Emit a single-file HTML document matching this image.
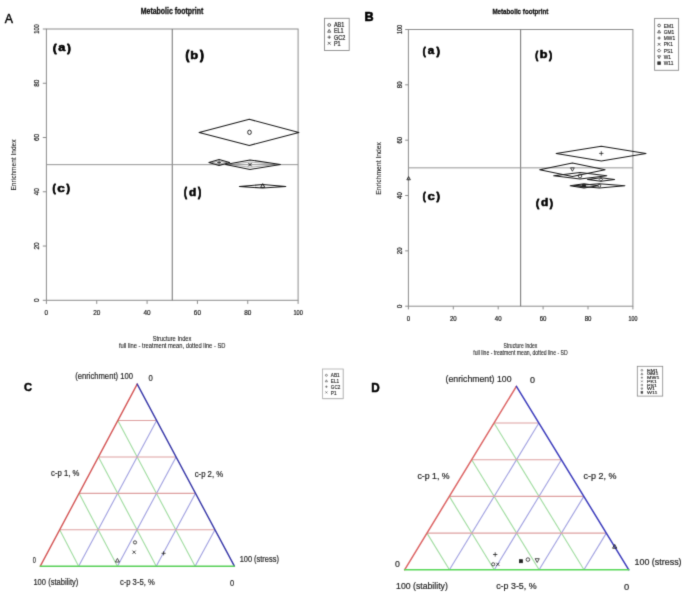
<!DOCTYPE html>
<html><head><meta charset="utf-8"><title>Metabolic footprint</title>
<style>
html,body{margin:0;padding:0;background:#fff;}
svg{display:block;font-family:"Liberation Sans", sans-serif;}
</style></head>
<body>
<svg width="685" height="598" viewBox="0 0 685 598">
<defs><filter id="soft" filterUnits="userSpaceOnUse" x="0" y="0" width="685" height="598" color-interpolation-filters="sRGB"><feConvolveMatrix order="3" kernelMatrix="1 6 1 6 36 6 1 6 1" edgeMode="duplicate"/></filter></defs>
<g filter="url(#soft)">
<rect x="0" y="0" width="685" height="598" fill="#fff"/>
<text x="4.80" y="22.50" font-size="13.04" fill="#000" textLength="8.23" lengthAdjust="spacingAndGlyphs" stroke="#000" stroke-width="0.45" stroke-linejoin="round">A</text>
<text x="364.48" y="20.80" font-size="12.32" fill="#000" textLength="9.12" lengthAdjust="spacingAndGlyphs" font-weight="bold" stroke="#000" stroke-width="0.6" stroke-linejoin="round">B</text>
<text x="24.05" y="391.28" font-size="11.83" fill="#000" textLength="8.05" lengthAdjust="spacingAndGlyphs" font-weight="bold" stroke="#000" stroke-width="0.45" stroke-linejoin="round">C</text>
<text x="371.14" y="392.20" font-size="11.88" fill="#000" textLength="8.45" lengthAdjust="spacingAndGlyphs" font-weight="bold" stroke="#000" stroke-width="0.5" stroke-linejoin="round">D</text>
<rect x="46.40" y="29.00" width="251.70" height="271.30" fill="none" stroke="#8c8c8c" stroke-width="1"/>
<line x1="46.40" y1="300.30" x2="46.40" y2="303.90" stroke="#8c8c8c" stroke-width="1" />
<line x1="42.80" y1="300.30" x2="46.40" y2="300.30" stroke="#8c8c8c" stroke-width="1" />
<text x="46.40" y="314.60" font-size="7.3" fill="#222" text-anchor="middle" textLength="3.57" lengthAdjust="spacingAndGlyphs" stroke="#222" stroke-width="0.22">0</text>
<text x="0" y="0" transform="translate(38.80 300.30) rotate(-90)" font-size="7.3" fill="#222" text-anchor="middle" textLength="3.57" lengthAdjust="spacingAndGlyphs" stroke="#222" stroke-width="0.22">0</text>
<line x1="96.74" y1="300.30" x2="96.74" y2="303.90" stroke="#8c8c8c" stroke-width="1" />
<line x1="42.80" y1="246.04" x2="46.40" y2="246.04" stroke="#8c8c8c" stroke-width="1" />
<text x="96.74" y="314.60" font-size="7.3" fill="#222" text-anchor="middle" textLength="7.15" lengthAdjust="spacingAndGlyphs" stroke="#222" stroke-width="0.22">20</text>
<text x="0" y="0" transform="translate(38.80 246.04) rotate(-90)" font-size="7.3" fill="#222" text-anchor="middle" textLength="7.15" lengthAdjust="spacingAndGlyphs" stroke="#222" stroke-width="0.22">20</text>
<line x1="147.08" y1="300.30" x2="147.08" y2="303.90" stroke="#8c8c8c" stroke-width="1" />
<line x1="42.80" y1="191.78" x2="46.40" y2="191.78" stroke="#8c8c8c" stroke-width="1" />
<text x="147.08" y="314.60" font-size="7.3" fill="#222" text-anchor="middle" textLength="7.15" lengthAdjust="spacingAndGlyphs" stroke="#222" stroke-width="0.22">40</text>
<text x="0" y="0" transform="translate(38.80 191.78) rotate(-90)" font-size="7.3" fill="#222" text-anchor="middle" textLength="7.15" lengthAdjust="spacingAndGlyphs" stroke="#222" stroke-width="0.22">40</text>
<line x1="197.42" y1="300.30" x2="197.42" y2="303.90" stroke="#8c8c8c" stroke-width="1" />
<line x1="42.80" y1="137.52" x2="46.40" y2="137.52" stroke="#8c8c8c" stroke-width="1" />
<text x="197.42" y="314.60" font-size="7.3" fill="#222" text-anchor="middle" textLength="7.15" lengthAdjust="spacingAndGlyphs" stroke="#222" stroke-width="0.22">60</text>
<text x="0" y="0" transform="translate(38.80 137.52) rotate(-90)" font-size="7.3" fill="#222" text-anchor="middle" textLength="7.15" lengthAdjust="spacingAndGlyphs" stroke="#222" stroke-width="0.22">60</text>
<line x1="247.76" y1="300.30" x2="247.76" y2="303.90" stroke="#8c8c8c" stroke-width="1" />
<line x1="42.80" y1="83.26" x2="46.40" y2="83.26" stroke="#8c8c8c" stroke-width="1" />
<text x="247.76" y="314.60" font-size="7.3" fill="#222" text-anchor="middle" textLength="7.15" lengthAdjust="spacingAndGlyphs" stroke="#222" stroke-width="0.22">80</text>
<text x="0" y="0" transform="translate(38.80 83.26) rotate(-90)" font-size="7.3" fill="#222" text-anchor="middle" textLength="7.15" lengthAdjust="spacingAndGlyphs" stroke="#222" stroke-width="0.22">80</text>
<line x1="298.10" y1="300.30" x2="298.10" y2="303.90" stroke="#8c8c8c" stroke-width="1" />
<line x1="42.80" y1="29.00" x2="46.40" y2="29.00" stroke="#8c8c8c" stroke-width="1" />
<text x="298.10" y="314.60" font-size="7.3" fill="#222" text-anchor="middle" textLength="9.43" lengthAdjust="spacingAndGlyphs" stroke="#222" stroke-width="0.22">100</text>
<text x="0" y="0" transform="translate(38.80 29.00) rotate(-90)" font-size="7.3" fill="#222" text-anchor="middle" textLength="9.43" lengthAdjust="spacingAndGlyphs" stroke="#222" stroke-width="0.22">100</text>
<line x1="172.25" y1="29.00" x2="172.25" y2="300.30" stroke="#707070" stroke-width="1" />
<line x1="46.40" y1="164.65" x2="298.10" y2="164.65" stroke="#959595" stroke-width="1" />
<text x="140.75" y="13.60" font-size="8.4" fill="#111" textLength="62.55" lengthAdjust="spacingAndGlyphs" font-weight="bold" stroke="#111" stroke-width="0.3">Metabolic footprint</text>
<text x="152.64" y="340.80" font-size="7.3" fill="#222" textLength="38.72" lengthAdjust="spacingAndGlyphs" stroke="#222" stroke-width="0.1">Structure Index</text>
<text x="119.01" y="348.10" font-size="7.0" fill="#222" textLength="106.47" lengthAdjust="spacingAndGlyphs" stroke="#222" stroke-width="0.1">full line - treatment mean, dotted line - SD</text>
<text x="0" y="0" transform="translate(15.60 190.52) rotate(-90)" font-size="7.1" fill="#222" textLength="51.00" lengthAdjust="spacingAndGlyphs" stroke="#222" stroke-width="0.1">Enrichment Index</text>
<text x="53.06" y="51.82" font-size="11.34" fill="#000" textLength="3.57" lengthAdjust="spacingAndGlyphs" font-weight="bold" stroke="#000" stroke-width="0.9" stroke-linejoin="round">(</text>
<text x="58.22" y="51.29" font-size="11.09" fill="#000" textLength="7.07" lengthAdjust="spacingAndGlyphs" font-weight="bold" stroke="#000" stroke-width="0.55" stroke-linejoin="round">a</text>
<text x="67.30" y="51.82" font-size="11.34" fill="#000" textLength="3.51" lengthAdjust="spacingAndGlyphs" font-weight="bold" stroke="#000" stroke-width="0.9" stroke-linejoin="round">)</text>
<text x="185.53" y="58.68" font-size="11.98" fill="#000" textLength="3.81" lengthAdjust="spacingAndGlyphs" font-weight="bold" stroke="#000" stroke-width="0.9" stroke-linejoin="round">(</text>
<text x="190.36" y="58.59" font-size="11.29" fill="#000" textLength="7.86" lengthAdjust="spacingAndGlyphs" font-weight="bold" stroke="#000" stroke-width="0.55" stroke-linejoin="round">b</text>
<text x="200.00" y="58.68" font-size="11.98" fill="#000" textLength="3.86" lengthAdjust="spacingAndGlyphs" font-weight="bold" stroke="#000" stroke-width="0.9" stroke-linejoin="round">)</text>
<text x="52.42" y="191.95" font-size="11.66" fill="#000" textLength="3.21" lengthAdjust="spacingAndGlyphs" font-weight="bold" stroke="#000" stroke-width="0.9" stroke-linejoin="round">(</text>
<text x="57.26" y="191.69" font-size="10.55" fill="#000" textLength="7.57" lengthAdjust="spacingAndGlyphs" font-weight="bold" stroke="#000" stroke-width="0.55" stroke-linejoin="round">c</text>
<text x="66.40" y="191.95" font-size="11.66" fill="#000" textLength="3.39" lengthAdjust="spacingAndGlyphs" font-weight="bold" stroke="#000" stroke-width="0.9" stroke-linejoin="round">)</text>
<text x="184.05" y="196.01" font-size="11.87" fill="#000" textLength="2.97" lengthAdjust="spacingAndGlyphs" font-weight="bold" stroke="#000" stroke-width="0.9" stroke-linejoin="round">(</text>
<text x="189.12" y="195.99" font-size="11.43" fill="#000" textLength="7.26" lengthAdjust="spacingAndGlyphs" font-weight="bold" stroke="#000" stroke-width="0.55" stroke-linejoin="round">d</text>
<text x="198.10" y="196.01" font-size="11.87" fill="#000" textLength="3.16" lengthAdjust="spacingAndGlyphs" font-weight="bold" stroke="#000" stroke-width="0.9" stroke-linejoin="round">)</text>
<polygon points="199.10,132.40 249.30,119.30 298.90,132.40 249.30,145.40" fill="none" stroke="#1a1a1a" stroke-width="1.05" stroke-linejoin="round"/>
<polygon points="208.90,162.50 219.10,159.60 229.60,162.50 219.10,165.40" fill="none" stroke="#1a1a1a" stroke-width="1.05" stroke-linejoin="round"/>
<polygon points="211.50,162.50 219.10,161.00 227.00,162.50 219.10,164.00" fill="none" stroke="#555" stroke-width="0.5" stroke-linejoin="round"/>
<polygon points="225.60,164.60 250.00,159.90 280.40,164.60 250.00,169.40" fill="none" stroke="#1a1a1a" stroke-width="1.05" stroke-linejoin="round"/>
<polygon points="230.00,164.60 250.00,162.00 276.00,164.60 250.00,167.20" fill="none" stroke="#666" stroke-width="0.5" stroke-linejoin="round"/>
<polygon points="239.40,186.40 262.70,184.60 285.80,186.40 262.70,188.10" fill="none" stroke="#1a1a1a" stroke-width="1.05" stroke-linejoin="round"/>
<ellipse cx="249.5" cy="132.3" rx="1.8" ry="2.2" fill="none" stroke="#111" stroke-width="0.9"/>
<line x1="217.18" y1="162.50" x2="221.02" y2="162.50" stroke="#222" stroke-width="0.8" />
<line x1="219.10" y1="160.58" x2="219.10" y2="164.42" stroke="#222" stroke-width="0.8" />
<line x1="248.30" y1="162.90" x2="251.70" y2="166.30" stroke="#111" stroke-width="0.9" />
<line x1="248.30" y1="166.30" x2="251.70" y2="162.90" stroke="#111" stroke-width="0.9" />
<polygon points="262.70,183.62 264.79,187.42 260.61,187.42" fill="none" stroke="#111" stroke-width="0.9"/>
<rect x="324.5" y="18.3" width="24.7" height="32.2" fill="#fff" stroke="#8c8c8c" stroke-width="0.9"/>
<circle cx="329.20" cy="25.00" r="1.40" fill="none" stroke="#333" stroke-width="0.75"/>
<text x="333.9" y="27.30" font-size="6.4" fill="#222" stroke="#222" stroke-width="0.2" textLength="10.40" lengthAdjust="spacingAndGlyphs">AB1</text>
<polygon points="329.20,29.42 330.74,32.22 327.66,32.22" fill="none" stroke="#333" stroke-width="0.75"/>
<text x="333.9" y="33.40" font-size="6.4" fill="#222" stroke="#222" stroke-width="0.2" textLength="9.79" lengthAdjust="spacingAndGlyphs">EL1</text>
<line x1="327.52" y1="37.20" x2="330.88" y2="37.20" stroke="#333" stroke-width="0.75" />
<line x1="329.20" y1="35.52" x2="329.20" y2="38.88" stroke="#333" stroke-width="0.75" />
<text x="333.9" y="39.50" font-size="6.4" fill="#222" stroke="#222" stroke-width="0.2" textLength="11.32" lengthAdjust="spacingAndGlyphs">GC2</text>
<line x1="327.80" y1="41.90" x2="330.60" y2="44.70" stroke="#333" stroke-width="0.75" />
<line x1="327.80" y1="44.70" x2="330.60" y2="41.90" stroke="#333" stroke-width="0.75" />
<text x="333.9" y="45.60" font-size="6.4" fill="#222" stroke="#222" stroke-width="0.2" textLength="6.73" lengthAdjust="spacingAndGlyphs">P1</text>
<rect x="408.40" y="29.50" width="224.50" height="276.70" fill="none" stroke="#8c8c8c" stroke-width="1"/>
<line x1="408.40" y1="306.20" x2="408.40" y2="309.40" stroke="#8c8c8c" stroke-width="1" />
<line x1="405.20" y1="306.20" x2="408.40" y2="306.20" stroke="#8c8c8c" stroke-width="1" />
<text x="408.40" y="320.70" font-size="6.6" fill="#222" text-anchor="middle" textLength="3.38" lengthAdjust="spacingAndGlyphs" stroke="#222" stroke-width="0.22">0</text>
<text x="0" y="0" transform="translate(401.80 306.20) rotate(-90)" font-size="6.6" fill="#222" text-anchor="middle" textLength="3.38" lengthAdjust="spacingAndGlyphs" stroke="#222" stroke-width="0.22">0</text>
<line x1="453.30" y1="306.20" x2="453.30" y2="309.40" stroke="#8c8c8c" stroke-width="1" />
<line x1="405.20" y1="250.86" x2="408.40" y2="250.86" stroke="#8c8c8c" stroke-width="1" />
<text x="453.30" y="320.70" font-size="6.6" fill="#222" text-anchor="middle" textLength="6.75" lengthAdjust="spacingAndGlyphs" stroke="#222" stroke-width="0.22">20</text>
<text x="0" y="0" transform="translate(401.80 250.86) rotate(-90)" font-size="6.6" fill="#222" text-anchor="middle" textLength="6.75" lengthAdjust="spacingAndGlyphs" stroke="#222" stroke-width="0.22">20</text>
<line x1="498.20" y1="306.20" x2="498.20" y2="309.40" stroke="#8c8c8c" stroke-width="1" />
<line x1="405.20" y1="195.52" x2="408.40" y2="195.52" stroke="#8c8c8c" stroke-width="1" />
<text x="498.20" y="320.70" font-size="6.6" fill="#222" text-anchor="middle" textLength="6.75" lengthAdjust="spacingAndGlyphs" stroke="#222" stroke-width="0.22">40</text>
<text x="0" y="0" transform="translate(401.80 195.52) rotate(-90)" font-size="6.6" fill="#222" text-anchor="middle" textLength="6.75" lengthAdjust="spacingAndGlyphs" stroke="#222" stroke-width="0.22">40</text>
<line x1="543.10" y1="306.20" x2="543.10" y2="309.40" stroke="#8c8c8c" stroke-width="1" />
<line x1="405.20" y1="140.18" x2="408.40" y2="140.18" stroke="#8c8c8c" stroke-width="1" />
<text x="543.10" y="320.70" font-size="6.6" fill="#222" text-anchor="middle" textLength="6.75" lengthAdjust="spacingAndGlyphs" stroke="#222" stroke-width="0.22">60</text>
<text x="0" y="0" transform="translate(401.80 140.18) rotate(-90)" font-size="6.6" fill="#222" text-anchor="middle" textLength="6.75" lengthAdjust="spacingAndGlyphs" stroke="#222" stroke-width="0.22">60</text>
<line x1="588.00" y1="306.20" x2="588.00" y2="309.40" stroke="#8c8c8c" stroke-width="1" />
<line x1="405.20" y1="84.84" x2="408.40" y2="84.84" stroke="#8c8c8c" stroke-width="1" />
<text x="588.00" y="320.70" font-size="6.6" fill="#222" text-anchor="middle" textLength="6.75" lengthAdjust="spacingAndGlyphs" stroke="#222" stroke-width="0.22">80</text>
<text x="0" y="0" transform="translate(401.80 84.84) rotate(-90)" font-size="6.6" fill="#222" text-anchor="middle" textLength="6.75" lengthAdjust="spacingAndGlyphs" stroke="#222" stroke-width="0.22">80</text>
<line x1="632.90" y1="306.20" x2="632.90" y2="309.40" stroke="#8c8c8c" stroke-width="1" />
<line x1="405.20" y1="29.50" x2="408.40" y2="29.50" stroke="#8c8c8c" stroke-width="1" />
<text x="632.90" y="320.70" font-size="6.6" fill="#222" text-anchor="middle" textLength="8.92" lengthAdjust="spacingAndGlyphs" stroke="#222" stroke-width="0.22">100</text>
<text x="0" y="0" transform="translate(401.80 29.50) rotate(-90)" font-size="6.6" fill="#222" text-anchor="middle" textLength="8.92" lengthAdjust="spacingAndGlyphs" stroke="#222" stroke-width="0.22">100</text>
<line x1="520.65" y1="29.50" x2="520.65" y2="306.20" stroke="#707070" stroke-width="1" />
<line x1="408.40" y1="167.85" x2="632.90" y2="167.85" stroke="#959595" stroke-width="1" />
<text x="492.40" y="13.50" font-size="7.9" fill="#111" textLength="55.99" lengthAdjust="spacingAndGlyphs" font-weight="bold" stroke="#111" stroke-width="0.3">Metabolic footprint</text>
<text x="503.48" y="347.60" font-size="6.8" fill="#222" textLength="33.88" lengthAdjust="spacingAndGlyphs" stroke="#222" stroke-width="0.1">Structure Index</text>
<text x="473.32" y="354.80" font-size="6.5" fill="#222" textLength="94.32" lengthAdjust="spacingAndGlyphs" stroke="#222" stroke-width="0.1">full line - treatment mean, dotted line - SD</text>
<text x="0" y="0" transform="translate(381.40 194.74) rotate(-90)" font-size="7.0" fill="#222" textLength="52.72" lengthAdjust="spacingAndGlyphs" stroke="#222" stroke-width="0.1">Enrichment Index</text>
<text x="422.85" y="54.83" font-size="11.76" fill="#000" textLength="2.97" lengthAdjust="spacingAndGlyphs" font-weight="bold" stroke="#000" stroke-width="0.9" stroke-linejoin="round">(</text>
<text x="427.85" y="54.29" font-size="11.09" fill="#000" textLength="6.45" lengthAdjust="spacingAndGlyphs" font-weight="bold" stroke="#000" stroke-width="0.55" stroke-linejoin="round">a</text>
<text x="436.40" y="54.83" font-size="11.76" fill="#000" textLength="3.39" lengthAdjust="spacingAndGlyphs" font-weight="bold" stroke="#000" stroke-width="0.9" stroke-linejoin="round">)</text>
<text x="535.25" y="58.83" font-size="11.76" fill="#000" textLength="2.97" lengthAdjust="spacingAndGlyphs" font-weight="bold" stroke="#000" stroke-width="0.9" stroke-linejoin="round">(</text>
<text x="539.78" y="58.19" font-size="10.61" fill="#000" textLength="7.74" lengthAdjust="spacingAndGlyphs" font-weight="bold" stroke="#000" stroke-width="0.55" stroke-linejoin="round">b</text>
<text x="549.00" y="58.83" font-size="11.76" fill="#000" textLength="3.16" lengthAdjust="spacingAndGlyphs" font-weight="bold" stroke="#000" stroke-width="0.9" stroke-linejoin="round">)</text>
<text x="422.85" y="199.83" font-size="11.76" fill="#000" textLength="2.97" lengthAdjust="spacingAndGlyphs" font-weight="bold" stroke="#000" stroke-width="0.9" stroke-linejoin="round">(</text>
<text x="427.47" y="199.68" font-size="11.64" fill="#000" textLength="7.34" lengthAdjust="spacingAndGlyphs" font-weight="bold" stroke="#000" stroke-width="0.55" stroke-linejoin="round">c</text>
<text x="436.40" y="199.83" font-size="11.76" fill="#000" textLength="3.39" lengthAdjust="spacingAndGlyphs" font-weight="bold" stroke="#000" stroke-width="0.9" stroke-linejoin="round">)</text>
<text x="536.02" y="206.83" font-size="11.76" fill="#000" textLength="3.21" lengthAdjust="spacingAndGlyphs" font-weight="bold" stroke="#000" stroke-width="0.9" stroke-linejoin="round">(</text>
<text x="540.92" y="206.39" font-size="10.88" fill="#000" textLength="7.26" lengthAdjust="spacingAndGlyphs" font-weight="bold" stroke="#000" stroke-width="0.55" stroke-linejoin="round">d</text>
<text x="549.80" y="206.83" font-size="11.76" fill="#000" textLength="3.16" lengthAdjust="spacingAndGlyphs" font-weight="bold" stroke="#000" stroke-width="0.9" stroke-linejoin="round">)</text>
<polygon points="556.20,153.50 601.30,146.20 646.00,153.50 601.30,161.00" fill="none" stroke="#1a1a1a" stroke-width="1.05" stroke-linejoin="round"/>
<line x1="599.14" y1="153.40" x2="603.46" y2="153.40" stroke="#222" stroke-width="0.8" />
<line x1="601.30" y1="151.24" x2="601.30" y2="155.56" stroke="#222" stroke-width="0.8" />
<polygon points="539.70,169.70 572.40,162.90 605.10,169.70 572.40,176.50" fill="none" stroke="#1a1a1a" stroke-width="1.05" stroke-linejoin="round"/>
<polygon points="572.40,171.24 574.27,167.84 570.53,167.84" fill="none" stroke="#222" stroke-width="0.8"/>
<polygon points="553.70,175.80 580.00,172.60 606.80,175.80 580.00,179.00" fill="none" stroke="#1a1a1a" stroke-width="1.05" stroke-linejoin="round"/>
<circle cx="580.00" cy="176.00" r="1.80" fill="none" stroke="#222" stroke-width="0.8"/>
<polygon points="587.60,179.50 600.90,177.80 614.60,179.50 600.90,181.20" fill="none" stroke="#1a1a1a" stroke-width="1.05" stroke-linejoin="round"/>
<polygon points="599.22,179.50 600.90,177.82 602.58,179.50 600.90,181.18" fill="none" stroke="#222" stroke-width="0.8"/>
<polygon points="570.20,185.80 584.00,183.80 597.80,185.80 584.00,187.90" fill="none" stroke="#1a1a1a" stroke-width="1.05" stroke-linejoin="round"/>
<polygon points="573.70,185.80 599.30,183.80 624.90,185.80 599.30,187.90" fill="none" stroke="#1a1a1a" stroke-width="1.05" stroke-linejoin="round"/>
<rect x="582.60" y="184.40" width="2.80" height="2.80" fill="#222" stroke="#222" stroke-width="0.8"/>
<circle cx="599.30" cy="185.80" r="1.40" fill="none" stroke="#222" stroke-width="0.8"/>
<polygon points="408.60,176.58 410.36,179.78 406.84,179.78" fill="none" stroke="#222" stroke-width="0.9"/>
<rect x="654.6" y="18.4" width="24.0" height="51.9" fill="#fff" stroke="#8c8c8c" stroke-width="0.9"/>
<circle cx="659.10" cy="25.50" r="1.35" fill="none" stroke="#333" stroke-width="0.75"/>
<text x="663.8" y="27.60" font-size="5.9" fill="#222" stroke="#222" stroke-width="0.15" textLength="9.95" lengthAdjust="spacingAndGlyphs">EM1</text>
<polygon points="659.10,30.16 660.59,32.86 657.62,32.86" fill="none" stroke="#333" stroke-width="0.75"/>
<text x="663.8" y="33.88" font-size="5.9" fill="#222" stroke="#222" stroke-width="0.15" textLength="10.48" lengthAdjust="spacingAndGlyphs">GM1</text>
<line x1="657.48" y1="38.06" x2="660.72" y2="38.06" stroke="#333" stroke-width="0.75" />
<line x1="659.10" y1="36.44" x2="659.10" y2="39.68" stroke="#333" stroke-width="0.75" />
<text x="663.8" y="40.16" font-size="5.9" fill="#222" stroke="#222" stroke-width="0.15" textLength="11.29" lengthAdjust="spacingAndGlyphs">MW1</text>
<line x1="657.75" y1="42.99" x2="660.45" y2="45.69" stroke="#333" stroke-width="0.75" />
<line x1="657.75" y1="45.69" x2="660.45" y2="42.99" stroke="#333" stroke-width="0.75" />
<text x="663.8" y="46.44" font-size="5.9" fill="#222" stroke="#222" stroke-width="0.15" textLength="9.14" lengthAdjust="spacingAndGlyphs">PK1</text>
<polygon points="657.48,50.62 659.10,49.00 660.72,50.62 659.10,52.24" fill="none" stroke="#333" stroke-width="0.75"/>
<text x="663.8" y="52.72" font-size="5.9" fill="#222" stroke="#222" stroke-width="0.15" textLength="9.14" lengthAdjust="spacingAndGlyphs">PS1</text>
<polygon points="659.10,58.52 660.59,55.82 657.62,55.82" fill="none" stroke="#333" stroke-width="0.75"/>
<text x="663.8" y="59.00" font-size="5.9" fill="#222" stroke="#222" stroke-width="0.15" textLength="7.26" lengthAdjust="spacingAndGlyphs">W1</text>
<rect x="657.75" y="61.83" width="2.70" height="2.70" fill="#333" stroke="#333" stroke-width="0.75"/>
<text x="663.8" y="65.28" font-size="5.9" fill="#222" stroke="#222" stroke-width="0.15" textLength="9.59" lengthAdjust="spacingAndGlyphs">W11</text>
<line x1="117.82" y1="420.52" x2="156.64" y2="420.52" stroke="#dea0a0" stroke-width="1.1" />
<line x1="117.82" y1="420.52" x2="195.08" y2="566.20" stroke="#a0dca0" stroke-width="1.1" />
<line x1="156.64" y1="420.52" x2="78.62" y2="566.20" stroke="#a0a0e0" stroke-width="1.1" />
<line x1="98.44" y1="456.94" x2="176.08" y2="456.94" stroke="#dea0a0" stroke-width="1.1" />
<line x1="98.44" y1="456.94" x2="156.26" y2="566.20" stroke="#a0dca0" stroke-width="1.1" />
<line x1="176.08" y1="456.94" x2="117.44" y2="566.20" stroke="#a0a0e0" stroke-width="1.1" />
<line x1="79.06" y1="493.36" x2="195.52" y2="493.36" stroke="#dea0a0" stroke-width="1.1" />
<line x1="79.06" y1="493.36" x2="117.44" y2="566.20" stroke="#a0dca0" stroke-width="1.1" />
<line x1="195.52" y1="493.36" x2="156.26" y2="566.20" stroke="#a0a0e0" stroke-width="1.1" />
<line x1="59.68" y1="529.78" x2="214.96" y2="529.78" stroke="#dea0a0" stroke-width="1.1" />
<line x1="59.68" y1="529.78" x2="78.62" y2="566.20" stroke="#a0dca0" stroke-width="1.1" />
<line x1="214.96" y1="529.78" x2="195.08" y2="566.20" stroke="#a0a0e0" stroke-width="1.1" />
<line x1="137.20" y1="384.10" x2="40.30" y2="566.20" stroke="#d45656" stroke-width="1.4" stroke-linecap="round"/>
<line x1="137.20" y1="384.10" x2="234.40" y2="566.20" stroke="#3838a8" stroke-width="1.4" stroke-linecap="round"/>
<line x1="40.30" y1="566.20" x2="234.40" y2="566.20" stroke="#58d058" stroke-width="1.4" stroke-linecap="round"/>
<line x1="494.04" y1="423.00" x2="538.88" y2="423.00" stroke="#dea0a0" stroke-width="1.1" />
<line x1="494.04" y1="423.00" x2="583.96" y2="569.80" stroke="#a0dca0" stroke-width="1.1" />
<line x1="538.88" y1="423.00" x2="449.44" y2="569.80" stroke="#a0a0e0" stroke-width="1.1" />
<line x1="471.68" y1="459.70" x2="561.36" y2="459.70" stroke="#dea0a0" stroke-width="1.1" />
<line x1="471.68" y1="459.70" x2="539.12" y2="569.80" stroke="#a0dca0" stroke-width="1.1" />
<line x1="561.36" y1="459.70" x2="494.28" y2="569.80" stroke="#a0a0e0" stroke-width="1.1" />
<line x1="449.32" y1="496.40" x2="583.84" y2="496.40" stroke="#dea0a0" stroke-width="1.1" />
<line x1="449.32" y1="496.40" x2="494.28" y2="569.80" stroke="#a0dca0" stroke-width="1.1" />
<line x1="583.84" y1="496.40" x2="539.12" y2="569.80" stroke="#a0a0e0" stroke-width="1.1" />
<line x1="426.96" y1="533.10" x2="606.32" y2="533.10" stroke="#dea0a0" stroke-width="1.1" />
<line x1="426.96" y1="533.10" x2="449.44" y2="569.80" stroke="#a0dca0" stroke-width="1.1" />
<line x1="606.32" y1="533.10" x2="583.96" y2="569.80" stroke="#a0a0e0" stroke-width="1.1" />
<line x1="516.40" y1="386.30" x2="404.60" y2="569.80" stroke="#dc6464" stroke-width="1.5" stroke-linecap="round"/>
<line x1="516.40" y1="386.30" x2="628.80" y2="569.80" stroke="#3c3cbc" stroke-width="1.5" stroke-linecap="round"/>
<line x1="404.60" y1="569.80" x2="628.80" y2="569.80" stroke="#58d858" stroke-width="1.5" stroke-linecap="round"/>
<text x="75.14" y="379.10" font-size="9.0" fill="#262626" textLength="57.82" lengthAdjust="spacingAndGlyphs" stroke="#262626" stroke-width="0.2">(enrichment) 100</text>
<text x="148.59" y="380.50" font-size="8.7" fill="#262626" textLength="4.29" lengthAdjust="spacingAndGlyphs" stroke="#262626" stroke-width="0.2">0</text>
<text x="51.09" y="476.20" font-size="8.4" fill="#262626" textLength="28.26" lengthAdjust="spacingAndGlyphs" stroke="#262626" stroke-width="0.2">c-p 1, %</text>
<text x="194.69" y="476.50" font-size="8.6" fill="#262626" textLength="28.47" lengthAdjust="spacingAndGlyphs" stroke="#262626" stroke-width="0.2">c-p 2, %</text>
<text x="32.67" y="563.20" font-size="8.2" fill="#262626" textLength="3.13" lengthAdjust="spacingAndGlyphs" stroke="#262626" stroke-width="0.2">0</text>
<text x="239.64" y="561.60" font-size="8.8" fill="#262626" textLength="39.24" lengthAdjust="spacingAndGlyphs" stroke="#262626" stroke-width="0.2">100 (stress)</text>
<text x="33.43" y="585.40" font-size="9.0" fill="#262626" textLength="44.93" lengthAdjust="spacingAndGlyphs" stroke="#262626" stroke-width="0.2">100 (stability)</text>
<text x="119.89" y="584.80" font-size="8.7" fill="#262626" textLength="34.85" lengthAdjust="spacingAndGlyphs" stroke="#262626" stroke-width="0.2">c-p 3-5, %</text>
<text x="230.00" y="586.20" font-size="8.8" fill="#262626" textLength="4.17" lengthAdjust="spacingAndGlyphs" stroke="#262626" stroke-width="0.2">0</text>
<circle cx="135.00" cy="542.40" r="1.60" fill="none" stroke="#222" stroke-width="0.8"/>
<line x1="132.50" y1="550.60" x2="135.70" y2="553.80" stroke="#222" stroke-width="0.8" />
<line x1="132.50" y1="553.80" x2="135.70" y2="550.60" stroke="#222" stroke-width="0.8" />
<line x1="161.56" y1="553.30" x2="165.64" y2="553.30" stroke="#222" stroke-width="0.8" />
<line x1="163.60" y1="551.26" x2="163.60" y2="555.34" stroke="#222" stroke-width="0.8" />
<polygon points="117.40,558.44 119.38,562.04 115.42,562.04" fill="none" stroke="#222" stroke-width="0.8"/>
<rect x="322.4" y="369.0" width="20.8" height="29.4" fill="#fff" stroke="#aaa" stroke-width="0.8"/>
<line x1="322.40" y1="398.60" x2="343.40" y2="398.60" stroke="#bbb" stroke-width="1.2" />
<line x1="343.40" y1="369.00" x2="343.40" y2="398.60" stroke="#c4c4c4" stroke-width="1.0" />
<circle cx="326.40" cy="375.30" r="1.00" fill="none" stroke="#444" stroke-width="0.6"/>
<text x="330.8" y="377.40" font-size="5.8" fill="#222" stroke="#222" stroke-width="0.15" textLength="8.77" lengthAdjust="spacingAndGlyphs">AB1</text>
<polygon points="326.40,379.80 327.50,381.80 325.30,381.80" fill="none" stroke="#444" stroke-width="0.6"/>
<text x="330.8" y="383.10" font-size="5.8" fill="#222" stroke="#222" stroke-width="0.15" textLength="8.26" lengthAdjust="spacingAndGlyphs">EL1</text>
<line x1="325.20" y1="386.70" x2="327.60" y2="386.70" stroke="#444" stroke-width="0.6" />
<line x1="326.40" y1="385.50" x2="326.40" y2="387.90" stroke="#444" stroke-width="0.6" />
<text x="330.8" y="388.80" font-size="5.8" fill="#222" stroke="#222" stroke-width="0.15" textLength="9.54" lengthAdjust="spacingAndGlyphs">GC2</text>
<line x1="325.40" y1="391.40" x2="327.40" y2="393.40" stroke="#444" stroke-width="0.6" />
<line x1="325.40" y1="393.40" x2="327.40" y2="391.40" stroke="#444" stroke-width="0.6" />
<text x="330.8" y="394.50" font-size="5.8" fill="#222" stroke="#222" stroke-width="0.15" textLength="5.68" lengthAdjust="spacingAndGlyphs">P1</text>
<text x="445.58" y="381.90" font-size="9.6" fill="#262626" textLength="65.92" lengthAdjust="spacingAndGlyphs" stroke="#262626" stroke-width="0.2">(enrichment) 100</text>
<text x="529.94" y="382.60" font-size="8.5" fill="#262626" textLength="4.98" lengthAdjust="spacingAndGlyphs" stroke="#262626" stroke-width="0.2">0</text>
<text x="417.45" y="478.80" font-size="8.2" fill="#262626" textLength="32.14" lengthAdjust="spacingAndGlyphs" stroke="#262626" stroke-width="0.2">c-p 1, %</text>
<text x="583.64" y="478.80" font-size="8.4" fill="#262626" textLength="32.85" lengthAdjust="spacingAndGlyphs" stroke="#262626" stroke-width="0.2">c-p 2, %</text>
<text x="394.95" y="566.60" font-size="9.0" fill="#262626" textLength="4.87" lengthAdjust="spacingAndGlyphs" stroke="#262626" stroke-width="0.2">0</text>
<text x="634.53" y="565.20" font-size="8.6" fill="#262626" textLength="47.04" lengthAdjust="spacingAndGlyphs" stroke="#262626" stroke-width="0.2">100 (stress)</text>
<text x="396.05" y="589.10" font-size="9.1" fill="#262626" textLength="51.79" lengthAdjust="spacingAndGlyphs" stroke="#262626" stroke-width="0.2">100 (stability)</text>
<text x="496.14" y="589.10" font-size="9.1" fill="#262626" textLength="40.54" lengthAdjust="spacingAndGlyphs" stroke="#262626" stroke-width="0.2">c-p 3-5, %</text>
<text x="624.12" y="589.80" font-size="9.0" fill="#262626" textLength="5.21" lengthAdjust="spacingAndGlyphs" stroke="#262626" stroke-width="0.2">0</text>
<line x1="493.04" y1="554.50" x2="497.36" y2="554.50" stroke="#222" stroke-width="0.8" />
<line x1="495.20" y1="552.34" x2="495.20" y2="556.66" stroke="#222" stroke-width="0.8" />
<circle cx="493.20" cy="564.30" r="1.60" fill="none" stroke="#222" stroke-width="0.8"/>
<line x1="496.20" y1="562.70" x2="499.40" y2="565.90" stroke="#222" stroke-width="0.8" />
<line x1="496.20" y1="565.90" x2="499.40" y2="562.70" stroke="#222" stroke-width="0.8" />
<rect x="519.40" y="559.70" width="3.00" height="3.00" fill="#222" stroke="#222" stroke-width="0.8"/>
<circle cx="527.90" cy="559.60" r="1.80" fill="none" stroke="#222" stroke-width="0.8"/>
<polygon points="537.20,562.48 539.29,558.68 535.11,558.68" fill="none" stroke="#222" stroke-width="0.8"/>
<polygon points="614.70,544.42 616.79,548.22 612.61,548.22" fill="none" stroke="#222" stroke-width="0.9"/>
<rect x="637.3" y="366.3" width="25.4" height="29.8" fill="#fff" stroke="#888" stroke-width="0.8"/>
<circle cx="641.90" cy="370.30" r="0.90" fill="none" stroke="#444" stroke-width="0.55"/>
<text x="647.0" y="371.80" font-size="4.4" fill="#222" stroke="#222" stroke-width="0.15" textLength="10.86" lengthAdjust="spacingAndGlyphs">EM1</text>
<polygon points="641.90,372.90 642.89,374.70 640.91,374.70" fill="none" stroke="#444" stroke-width="0.55"/>
<text x="647.0" y="375.48" font-size="4.4" fill="#222" stroke="#222" stroke-width="0.15" textLength="11.44" lengthAdjust="spacingAndGlyphs">GM1</text>
<line x1="640.82" y1="377.66" x2="642.98" y2="377.66" stroke="#444" stroke-width="0.55" />
<line x1="641.90" y1="376.58" x2="641.90" y2="378.74" stroke="#444" stroke-width="0.55" />
<text x="647.0" y="379.16" font-size="4.4" fill="#222" stroke="#222" stroke-width="0.15" textLength="12.32" lengthAdjust="spacingAndGlyphs">MW1</text>
<line x1="641.00" y1="380.44" x2="642.80" y2="382.24" stroke="#444" stroke-width="0.55" />
<line x1="641.00" y1="382.24" x2="642.80" y2="380.44" stroke="#444" stroke-width="0.55" />
<text x="647.0" y="382.84" font-size="4.4" fill="#222" stroke="#222" stroke-width="0.15" textLength="9.98" lengthAdjust="spacingAndGlyphs">PK1</text>
<polygon points="640.82,385.02 641.90,383.94 642.98,385.02 641.90,386.10" fill="none" stroke="#444" stroke-width="0.55"/>
<text x="647.0" y="386.52" font-size="4.4" fill="#222" stroke="#222" stroke-width="0.15" textLength="9.98" lengthAdjust="spacingAndGlyphs">PS1</text>
<polygon points="641.90,389.78 642.89,387.98 640.91,387.98" fill="none" stroke="#444" stroke-width="0.55"/>
<text x="647.0" y="390.20" font-size="4.4" fill="#222" stroke="#222" stroke-width="0.15" textLength="7.92" lengthAdjust="spacingAndGlyphs">W1</text>
<rect x="641.00" y="391.48" width="1.80" height="1.80" fill="#444" stroke="#444" stroke-width="0.55"/>
<text x="647.0" y="393.88" font-size="4.4" fill="#222" stroke="#222" stroke-width="0.15" textLength="10.46" lengthAdjust="spacingAndGlyphs">W11</text>
</g>
</svg>
</body></html>
